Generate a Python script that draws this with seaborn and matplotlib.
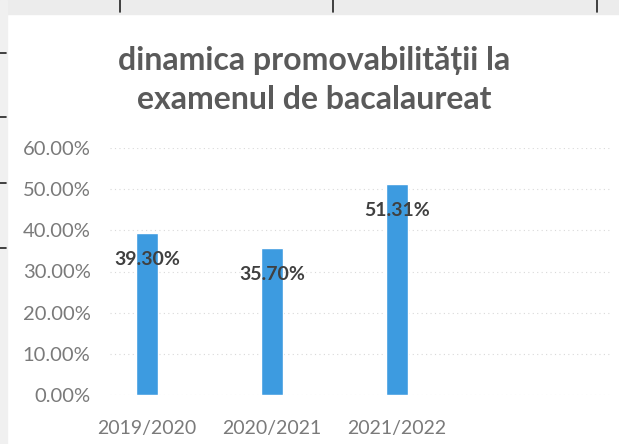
import matplotlib
matplotlib.use("Agg")
import matplotlib.pyplot as plt
import seaborn as sns
import pandas as pd
from matplotlib.lines import Line2D
from matplotlib.patches import Rectangle
from matplotlib.ticker import PercentFormatter, MultipleLocator

# date din grafic
years = ["2019/2020", "2020/2021", "2021/2022"]
rates = [0.3930, 0.3570, 0.5131]
rate_labels = ["39.30%", "35.70%", "51.31%"]

df = pd.DataFrame({"an": years, "promovabilitate": rates})

sns.set_theme(style="white")
plt.rcParams["font.family"] = ["Lato", "DejaVu Sans"]

fig = plt.figure(figsize=(6.19, 4.44), dpi=100)
ax = fig.add_axes([110 / 619, 1 - 395 / 444, 500 / 619, (395 - 148) / 444])

sns.barplot(data=df, x="an", y="promovabilitate", color="#3d9be0",
            width=0.17, saturation=1, ax=ax)

# etichete de date
for i, (v, lab) in enumerate(zip(rates, rate_labels)):
    ax.annotate(lab, xy=(i, v), xytext=(0, -19), textcoords="offset points",
                ha="center", va="center", fontsize=14, fontweight="bold",
                color="#404040")

ax.set_ylim(0, 0.6)
ax.set_xlim(-0.296, 3.704)
ax.yaxis.set_major_locator(MultipleLocator(0.1))
ax.yaxis.set_major_formatter(PercentFormatter(1.0, decimals=2))
ax.grid(axis="y", color="#d9d9d9", linestyle=(0, (1, 3)), linewidth=0.8)
ax.set_axisbelow(True)
for s in ax.spines.values():
    s.set_visible(False)
ax.tick_params(axis="both", length=0, labelcolor="#7a7a7a")
ax.tick_params(axis="x", pad=18, labelsize=14)
ax.tick_params(axis="y", pad=14, labelsize=14.5)
ax.set_xlabel("")
ax.set_ylabel("")

fig.text(314 / 619, 1 - 80 / 444, "dinamica promovabilității la\nexamenul de bacalaureat",
         ha="center", va="center", fontsize=23, fontweight="bold",
         color="#5a5a5a", linespacing=1.45)

# marginea tabelului scanat
fig.add_artist(Rectangle((0, 1 - 14 / 444), 1, 14 / 444, transform=fig.transFigure,
                         color="#ececec", zorder=0))
fig.add_artist(Rectangle((0, 0), 7 / 619, 1, transform=fig.transFigure,
                         color="#f0f0f0", zorder=0))
for xp in [120, 333, 597]:
    fig.add_artist(Line2D([xp / 619, xp / 619], [1, 1 - 12 / 444],
                          transform=fig.transFigure, color="#222222", lw=1.2))
for yp in [53, 117, 183, 248]:
    fig.add_artist(Line2D([0, 6 / 619], [1 - yp / 444, 1 - yp / 444],
                          transform=fig.transFigure, color="#222222", lw=1.2))

fig.savefig("out.png", dpi=100, facecolor="white")
